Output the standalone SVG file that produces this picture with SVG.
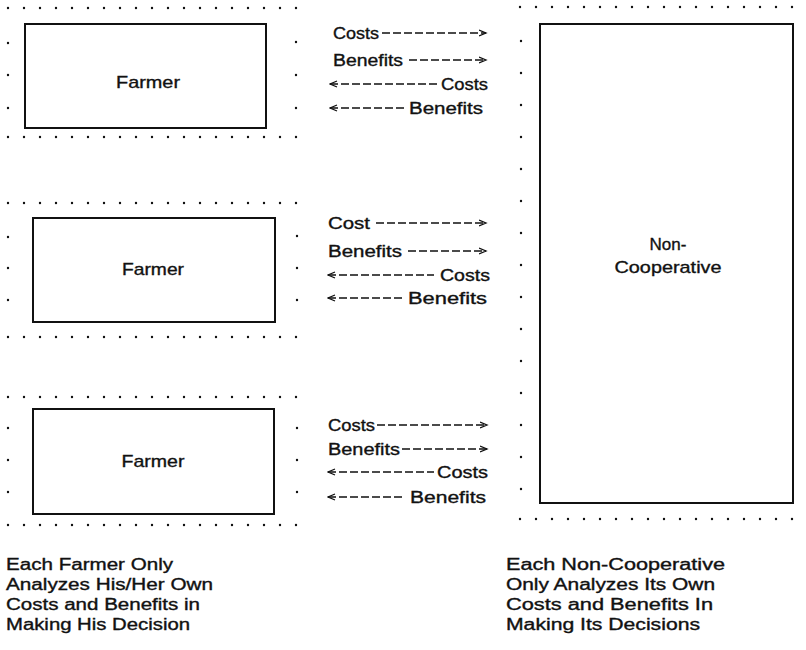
<svg xmlns="http://www.w3.org/2000/svg" width="806" height="650" viewBox="0 0 806 650">
<defs>
<style>
.dots{stroke:#111;stroke-width:2.4;stroke-linecap:round;stroke-dasharray:0 16;fill:none}
.dotsv{stroke:#111;stroke-width:2.4;stroke-linecap:round;stroke-dasharray:0 32;fill:none}
.box{fill:none;stroke:#111;stroke-width:2}
.t{font-family:"Liberation Sans",Arial,sans-serif;fill:#111;stroke:#111;stroke-width:0.35}
.lab{font-size:17px;text-anchor:middle}
.arr{font-size:16px}
.cap{font-size:16px}
.ln{stroke:#111;stroke-width:1.3;stroke-dasharray:8 3;fill:none}
.fw{marker-end:url(#ah)}
.bw{marker-start:url(#ahs)}
</style>
<marker id="ah" markerUnits="userSpaceOnUse" markerWidth="10" markerHeight="8" refX="7" refY="4" orient="auto">
<path d="M0,1 L7,4 L0,7" fill="none" stroke="#111" stroke-width="1.3"/>
</marker>
<marker id="ahs" markerUnits="userSpaceOnUse" markerWidth="10" markerHeight="8" refX="1" refY="4" orient="auto">
<path d="M8,1 L1,4 L8,7" fill="none" stroke="#111" stroke-width="1.3"/>
</marker>
</defs>
<rect width="806" height="650" fill="#fff"/>

<g id="farmer1">
<path class="dots" d="M8,8 H300 M8,137 H300"/>
<path class="dots" d="M8,43 V44 M8,75 V76 M8,108 V109 M296,42 V43 M296,75 V76 M296,108 V109"/>
<rect class="box" x="25" y="24" width="241" height="104"/>
<text class="t lab" x="148" y="88" textLength="64" lengthAdjust="spacingAndGlyphs">Farmer</text>
</g>

<g id="farmer2">
<path class="dots" d="M8,203 H300 M8,337 H300"/>
<path class="dots" d="M8,237 V238 M8,268 V269 M8,300 V301 M297,236 V237 M297,268 V269 M297,300 V301"/>
<rect class="box" x="33" y="218" width="242" height="104"/>
<text class="t lab" x="153" y="275" textLength="62" lengthAdjust="spacingAndGlyphs">Farmer</text>
</g>

<g id="farmer3">
<path class="dots" d="M8,397 H300 M8,525 H300"/>
<path class="dots" d="M8,428 V429 M8,460 V461 M8,492 V493 M297,428 V429 M297,460 V461 M297,492 V493"/>
<rect class="box" x="33" y="409" width="241" height="105"/>
<text class="t lab" x="153" y="467" textLength="63" lengthAdjust="spacingAndGlyphs">Farmer</text>
</g>

<g id="noncoop">
<path class="dots" d="M520,7 H800 M520,519 H800"/>
<path class="dotsv" d="M521,41 V490"/>
<rect class="box" x="540" y="24" width="253" height="479"/>
<text class="t lab" x="668" y="250">Non-</text>
<text class="t lab" x="668" y="273" textLength="107" lengthAdjust="spacingAndGlyphs">Cooperative</text>
</g>

<g id="connectors">
<path class="ln fw" d="M382,33 H486"/>
<path class="ln fw" d="M409,60 H486"/>
<path class="ln bw" d="M330,84 H439"/>
<path class="ln bw" d="M330,108 H407"/>

<path class="ln fw" d="M376,223 H486"/>
<path class="ln fw" d="M408,251 H486"/>
<path class="ln bw" d="M328,275 H434"/>
<path class="ln bw" d="M328,298 H402"/>

<path class="ln fw" d="M377,425 H487"/>
<path class="ln fw" d="M402,449 H487"/>
<path class="ln bw" d="M328,472 H434"/>
<path class="ln bw" d="M328,497 H405"/>
</g>

<g id="labels">
<text class="t arr" x="333" y="39" textLength="46" lengthAdjust="spacingAndGlyphs">Costs</text>
<text class="t arr" x="333" y="66" textLength="70" lengthAdjust="spacingAndGlyphs">Benefits</text>
<text class="t arr" x="441" y="90" textLength="47" lengthAdjust="spacingAndGlyphs">Costs</text>
<text class="t arr" x="409" y="114" textLength="74" lengthAdjust="spacingAndGlyphs">Benefits</text>

<text class="t arr" x="328" y="229" textLength="42" lengthAdjust="spacingAndGlyphs">Cost</text>
<text class="t arr" x="328" y="257" textLength="74" lengthAdjust="spacingAndGlyphs">Benefits</text>
<text class="t arr" x="440" y="281" textLength="50" lengthAdjust="spacingAndGlyphs">Costs</text>
<text class="t arr" x="408" y="304" textLength="79" lengthAdjust="spacingAndGlyphs">Benefits</text>

<text class="t arr" x="328" y="431" textLength="47" lengthAdjust="spacingAndGlyphs">Costs</text>
<text class="t arr" x="328" y="455" textLength="72" lengthAdjust="spacingAndGlyphs">Benefits</text>
<text class="t arr" x="437" y="478" textLength="51" lengthAdjust="spacingAndGlyphs">Costs</text>
<text class="t arr" x="410" y="503" textLength="76" lengthAdjust="spacingAndGlyphs">Benefits</text>
</g>

<g id="caption-left">
<text class="t cap" x="6" y="570" textLength="167" lengthAdjust="spacingAndGlyphs">Each Farmer Only</text>
<text class="t cap" x="6" y="590" textLength="207" lengthAdjust="spacingAndGlyphs">Analyzes His/Her Own</text>
<text class="t cap" x="6" y="610" textLength="194" lengthAdjust="spacingAndGlyphs">Costs and Benefits in</text>
<text class="t cap" x="6" y="630" textLength="184" lengthAdjust="spacingAndGlyphs">Making His Decision</text>
</g>

<g id="caption-right">
<text class="t cap" x="506" y="570" textLength="219" lengthAdjust="spacingAndGlyphs">Each Non-Cooperative</text>
<text class="t cap" x="506" y="590" textLength="209" lengthAdjust="spacingAndGlyphs">Only Analyzes Its Own</text>
<text class="t cap" x="506" y="610" textLength="207" lengthAdjust="spacingAndGlyphs">Costs and Benefits In</text>
<text class="t cap" x="506" y="630" textLength="194" lengthAdjust="spacingAndGlyphs">Making Its Decisions</text>
</g>
</svg>
